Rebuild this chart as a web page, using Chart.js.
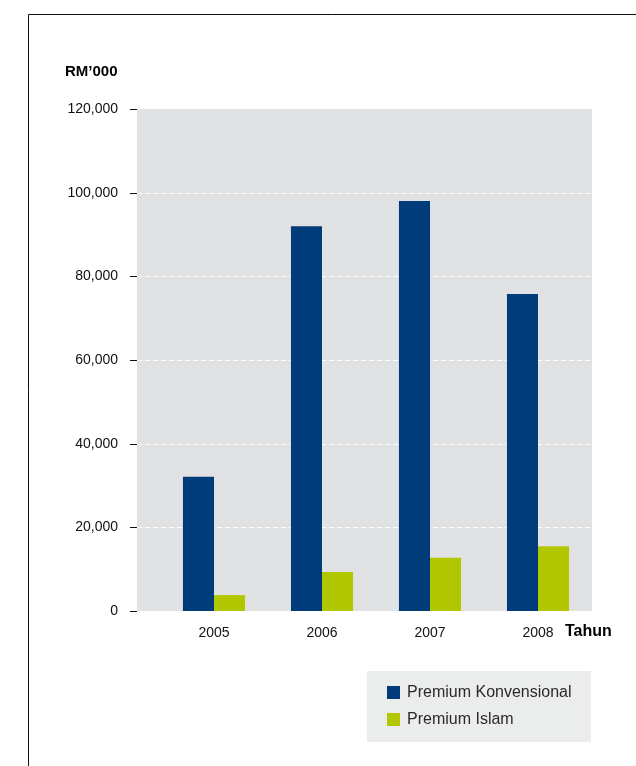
<!DOCTYPE html>
<html>
<head>
<meta charset="utf-8">
<title>Premium</title>
<script src="https://cdn.jsdelivr.net/npm/chart.js@4"></script>
<style>
  body { margin: 0; background: #fff; }
  #wrap { width: 636px; height: 766px; position: relative; }
</style>
</head>
<body>
<div id="wrap"><canvas id="premiumChart"></canvas></div>
<script>
  // data (RM'000)
  const years = ['2005', '2006', '2007', '2008'];
  const premiumKonvensional = [32100, 92000, 98000, 75800];
  const premiumIslam = [3800, 9300, 12700, 15500];
  const yMax = 120000;
  const yStep = 20000;

  const FONT = "'Liberation Sans', Arial, sans-serif";

  // grey panel, dashed grid, tick marks, frame, units and legend box
  const decor = {
    id: 'decor',
    beforeDraw(chart) {
      const c = chart.ctx;
      const area = chart.chartArea;
      const y = chart.scales.y;
      const panelLeft = 137;
      c.save();
      c.fillStyle = '#fff';
      c.fillRect(0, 0, chart.width, chart.height);
      // frame
      c.strokeStyle = '#111';
      c.lineWidth = 1;
      c.beginPath();
      c.moveTo(28.5, chart.height);
      c.lineTo(28.5, 14.5);
      c.lineTo(chart.width, 14.5);
      c.stroke();
      // panel
      c.fillStyle = '#e1e2e4';
      c.fillRect(panelLeft, area.top, area.right - panelLeft, area.bottom - area.top);
      // dashed grid
      c.strokeStyle = '#ffffff';
      c.setLineDash([5, 3]);
      y.ticks.forEach(t => {
        if (t.value <= 0 || t.value >= yMax) return;
        const py = Math.round(y.getPixelForValue(t.value)) + 0.5;
        c.beginPath();
        c.moveTo(panelLeft, py);
        c.lineTo(area.right, py);
        c.stroke();
      });
      c.setLineDash([]);
      // tick marks
      c.strokeStyle = '#111';
      y.ticks.forEach(t => {
        const py = Math.round(y.getPixelForValue(t.value)) + 0.5;
        c.beginPath();
        c.moveTo(130, py);
        c.lineTo(panelLeft, py);
        c.stroke();
      });
      // titles
      c.fillStyle = '#000';
      c.font = 'bold 15px ' + FONT;
      c.textBaseline = 'middle';
      c.textAlign = 'left';
      c.fillText('RM\u2019000', 65, 72);
      c.font = 'bold 16px ' + FONT;
      c.fillText('Tahun', 565, 632);
      // legend
      c.fillStyle = '#ebecec';
      c.fillRect(367, 671, 224, 71);
      c.font = '16px ' + FONT;
      chart.data.datasets.forEach((ds, i) => {
        const ly = 686 + i * 27;
        c.fillStyle = ds.backgroundColor;
        c.fillRect(387, ly, 13, 13);
        c.fillStyle = '#2a2a2a';
        c.fillText(ds.label, 407, ly + 7);
      });
      c.restore();
    }
  };

  const ctx = document.getElementById('premiumChart').getContext('2d');
  const premiumChart = new Chart(ctx, {
    type: 'bar',
    data: {
      labels: years,
      datasets: [{
        label: 'Premium Konvensional',
        data: premiumKonvensional,
        backgroundColor: '#003c79'
      }, {
        label: 'Premium Islam',
        data: premiumIslam,
        backgroundColor: '#b3c700'
      }]
    },
    options: {
      responsive: true,
      maintainAspectRatio: false,
      animation: false,
      events: [],
      layout: { padding: { top: 109, right: 44, left: 0, bottom: 0 } },
      datasets: {
        bar: { categoryPercentage: 0.575, barPercentage: 1.0 }
      },
      scales: {
        x: {
          grid: { display: false, drawTicks: false },
          border: { display: false },
          ticks: { color: '#111', font: { family: FONT, size: 14 }, padding: 14 },
          afterFit: (scale) => { scale.height = 155; }
        },
        y: {
          min: 0,
          max: yMax,
          grid: { display: false, drawTicks: false },
          border: { display: false },
          ticks: {
            stepSize: yStep,
            color: '#111',
            font: { family: FONT, size: 14 },
            padding: 42,
            callback: (v) => v.toLocaleString('en-US')
          },
          afterFit: (scale) => { scale.width = 160; }
        }
      },
      plugins: {
        legend: { display: false },
        tooltip: { enabled: false }
      }
    },
    plugins: [decor]
  });
</script>
</body>
</html>
